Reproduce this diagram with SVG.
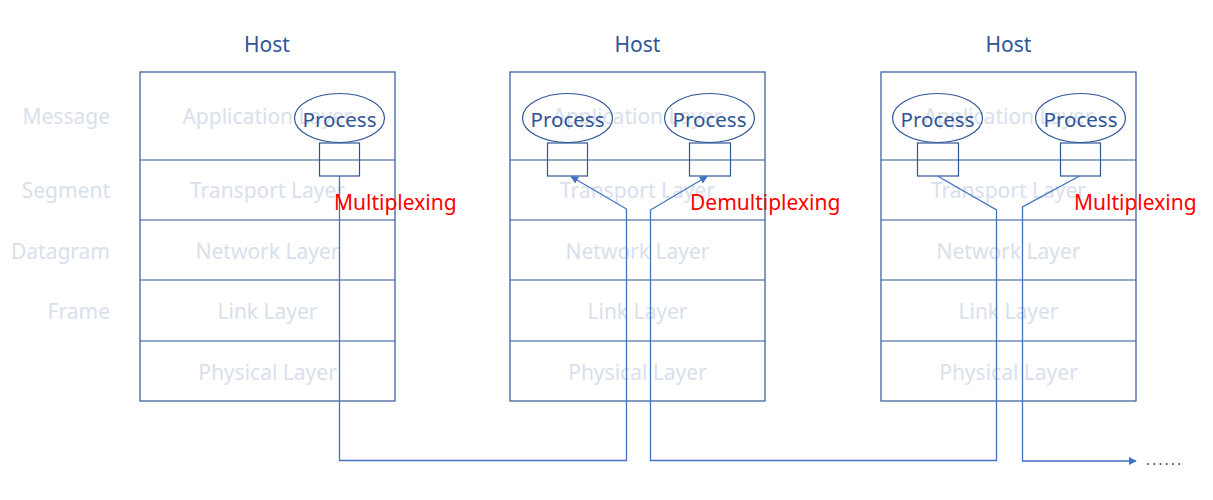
<svg xmlns="http://www.w3.org/2000/svg" width="1213" height="500" viewBox="0 0 1213 500">
<defs>
<style>
text{font-family:"Noto Sans","Liberation Sans",sans-serif;font-size:21px}
.host{fill:#2F5597;text-anchor:middle}
.layer{fill:#D9E0EC;text-anchor:middle}
.pdu{fill:#D9E0EC;text-anchor:end}
.proc{fill:#2F5597;text-anchor:middle;font-size:20.5px}
.red{fill:#FF0000}
.box{fill:none;stroke:#2F5597;stroke-width:1.2}
.ell{fill:none;stroke:#2F5597;stroke-width:1.2}
.conn{fill:none;stroke:#4472C4;stroke-width:1.3}
</style>
<marker id="ah" viewBox="0 0 10 10" refX="9" refY="5" markerWidth="8" markerHeight="8" markerUnits="userSpaceOnUse" orient="auto">
<path d="M0,0 L10,5 L0,10 z" fill="#4472C4"/>
</marker>
<g id="stack">
<rect class="box" x="0" y="0" width="255" height="329"/>
<line class="box" x1="0" y1="88" x2="255" y2="88"/>
<line class="box" x1="0" y1="148" x2="255" y2="148"/>
<line class="box" x1="0" y1="208" x2="255" y2="208"/>
<line class="box" x1="0" y1="269" x2="255" y2="269"/>
<text class="layer" x="127.5" y="52">Application Layer</text>
<text class="layer" x="127.5" y="126">Transport Layer</text>
<text class="layer" x="127.5" y="187">Network Layer</text>
<text class="layer" x="127.5" y="247">Link Layer</text>
<text class="layer" x="127.5" y="308">Physical Layer</text>
</g>
</defs>
<g id="pdu-labels">
<text class="pdu" x="110" y="124">Message</text>
<text class="pdu" x="110" y="198">Segment</text>
<text class="pdu" x="110" y="259">Datagram</text>
<text class="pdu" x="110" y="319">Frame</text>
</g>
<g id="host1">
<text class="host" x="267" y="52">Host</text>
<use href="#stack" x="140" y="72"/>
<ellipse class="ell" cx="339.5" cy="118" rx="45" ry="24.5"/>
<text class="proc" x="339.5" y="127">Process</text>
<rect class="box" x="319.5" y="143" width="40" height="33"/>
</g>
<g id="host2">
<text class="host" x="637.5" y="52">Host</text>
<use href="#stack" x="510" y="72"/>
<ellipse class="ell" cx="567.5" cy="118" rx="45" ry="24.5"/>
<text class="proc" x="567.5" y="127">Process</text>
<rect class="box" x="547.5" y="143" width="40" height="33"/>
<ellipse class="ell" cx="709.5" cy="118" rx="45" ry="24.5"/>
<text class="proc" x="709.5" y="127">Process</text>
<rect class="box" x="689.5" y="143" width="41" height="33"/>
</g>
<g id="host3">
<text class="host" x="1008.5" y="52">Host</text>
<use href="#stack" x="881" y="72"/>
<ellipse class="ell" cx="937.5" cy="118" rx="45" ry="24.5"/>
<text class="proc" x="937.5" y="127">Process</text>
<rect class="box" x="917.5" y="143" width="41" height="33"/>
<ellipse class="ell" cx="1080.5" cy="118" rx="45" ry="24.5"/>
<text class="proc" x="1080.5" y="127">Process</text>
<rect class="box" x="1060.5" y="143" width="40" height="33"/>
</g>
<g id="connectors">
<polyline class="conn" points="339.5,176 339.5,460.5 626.5,460.5 626.5,209 571,176.5" marker-end="url(#ah)"/>
<polyline class="conn" points="937.5,176 996.5,210 996.5,460.5 650.5,460.5 650.5,210 707,176.5" marker-end="url(#ah)"/>
<polyline class="conn" points="1079.5,176 1022.5,207 1022.5,461 1136,461" marker-end="url(#ah)"/>
<text x="1146" y="465" style="font-size:14px;fill:#404040" textLength="35" lengthAdjust="spacing">......</text>
</g>
<g id="labels">
<text class="red" x="334" y="210">Multiplexing</text>
<text class="red" x="690" y="210">Demultiplexing</text>
<text class="red" x="1074" y="210">Multiplexing</text>
</g>
</svg>
